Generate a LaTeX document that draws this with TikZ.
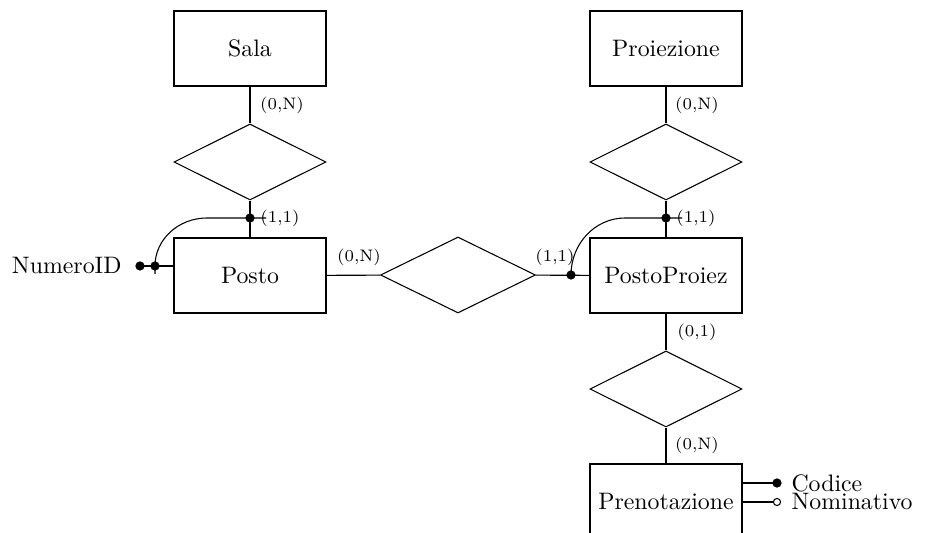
\documentclass[tikz,border=0pt]{standalone}
\usetikzlibrary{shapes.geometric}
\begin{document}
\begin{tikzpicture}[x=0.42pt,y=-0.42pt,line width=0.45pt,
  entity/.style={draw,rectangle,minimum width=63.84pt,minimum height=31.5pt,inner sep=0pt},
  rel/.style={draw,diamond,minimum width=63.84pt,minimum height=31.92pt,inner sep=0pt},
  dotf/.style={circle,fill,draw,minimum size=3.4pt,inner sep=0pt},
  doto/.style={circle,fill=white,draw,minimum size=3pt,inner sep=0pt},
  card/.style={font=\scriptsize,inner sep=0pt},
  attr/.style={inner sep=0pt}]
\clip (0,0) rectangle (926,533);
% entities
\node[entity] (sala) at (250,48.5) {Sala};
\node[entity] (proi) at (666,48.5) {Proiezione};
\node[entity] (posto) at (250,275.5) {Posto};
\node[entity] (pp) at (666,275.5) {PostoProiez};
\node[entity] (pren) at (666,501.5) {Prenotazione};
% relationships
\node[rel] (r1) at (250,162) {};
\node[rel] (r2) at (666,162) {};
\node[rel,minimum width=65.1pt] (r3) at (458,275) {};
\node[rel] (r4) at (666,389) {};
% connectors
\draw (sala) -- (r1);
\draw (r1) -- (posto);
\draw (proi) -- (r2);
\draw (r2) -- (pp);
\draw (posto) -- (r3);
\draw (r3) -- (pp);
\draw (pp) -- (r4);
\draw (r4) -- (pren);
% identifier junctions
\node[dotf] (j1) at (250,218) {};
\node[dotf] (j2) at (666,218) {};
\node[dotf] (dp) at (571,275) {};
\node[dotf] (dn1) at (155,266) {};
\node[dotf] (dn2) at (140,266) {};
\coordinate (c1) at (155,274);
\coordinate (e1) at (266,218);
\coordinate (e2) at (682,218);
\draw (c1) -- (dn1.center) .. controls (155,239.5) and (178.3,218) .. (207,218) -- (j1.center) -- (e1);
\draw (dp.center) .. controls (571,243.5) and (595.2,218) .. (625,218) -- (j2.center) -- (e2);
\draw (dn2.center) -- (dn2.center -| posto.west);
% attributes
\node[attr,anchor=east] (numid) at (122,266) {NumeroID};
\node[dotf] (cod) at (777,483) {};
\node[doto] (nom) at (777,502) {};
\draw (cod.center) -- (cod.center -| pren.east);
\draw (nom.west) -- (nom.west -| pren.east);
\node[attr,anchor=west] (codt) at (791,483) {Codice};
\node[attr,anchor=west] (nomt) at (791,502) {Nominativo};
% cardinalities
\node[card] (k1) at (282,105) {(0,N)};
\node[card] (k2) at (280,218) {(1,1)};
\node[card] (k3) at (359,257) {(0,N)};
\node[card] (k4) at (555,257) {(1,1)};
\node[card] (k5) at (697,105) {(0,N)};
\node[card] (k6) at (696,218) {(1,1)};
\node[card] (k7) at (697,332) {(0,1)};
\node[card] (k8) at (697,445) {(0,N)};
\end{tikzpicture}
\end{document}
